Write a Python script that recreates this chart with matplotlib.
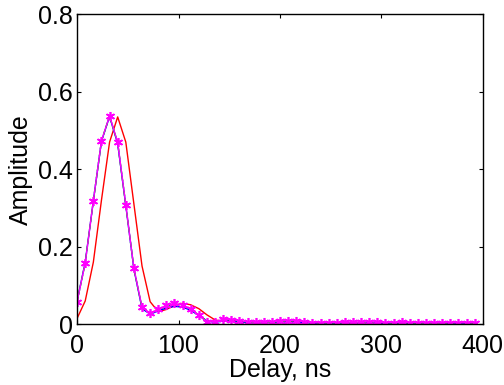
import numpy as np
from matplotlib import pyplot as plt

# delay axis, ns
delay = np.arange(0, 400, 8)

amp_red = [0.015, 0.060, 0.160, 0.320, 0.470, 0.535, 0.470, 0.310, 0.150, 0.058,
           0.032, 0.038, 0.048, 0.054, 0.050, 0.040, 0.024, 0.011, 0.007, 0.009,
           0.008, 0.006, 0.005, 0.005, 0.006, 0.007, 0.008, 0.007, 0.005, 0.004,
           0.003, 0.003, 0.003, 0.004, 0.004, 0.004, 0.004, 0.004, 0.003, 0.003,
           0.003, 0.003, 0.003, 0.003, 0.002, 0.002, 0.003, 0.002, 0.003, 0.003]
amp_blue = [0.060, 0.160, 0.318, 0.472, 0.536, 0.466, 0.306, 0.142, 0.040, 0.026,
            0.034, 0.042, 0.046, 0.044, 0.036, 0.022, 0.008, 0.005, 0.008, 0.008,
            0.006, 0.004, 0.003, 0.004, 0.004, 0.005, 0.006, 0.005, 0.004, 0.003,
            0.002, 0.002, 0.003, 0.003, 0.003, 0.003, 0.004, 0.003, 0.003, 0.003,
            0.003, 0.003, 0.003, 0.002, 0.002, 0.002, 0.003, 0.002, 0.003, 0.004]
amp_green = [0.058, 0.158, 0.318, 0.473, 0.537, 0.468, 0.307, 0.143, 0.043, 0.028,
             0.037, 0.047, 0.052, 0.048, 0.039, 0.023, 0.009, 0.006, 0.010, 0.010,
             0.008, 0.006, 0.004, 0.004, 0.005, 0.007, 0.008, 0.007, 0.005, 0.003,
             0.003, 0.003, 0.004, 0.004, 0.004, 0.004, 0.005, 0.004, 0.003, 0.003,
             0.004, 0.004, 0.003, 0.003, 0.002, 0.002, 0.003, 0.003, 0.004, 0.004]
amp_magenta = [0.058, 0.158, 0.318, 0.473, 0.538, 0.469, 0.308, 0.144, 0.044, 0.028,
               0.038, 0.049, 0.054, 0.049, 0.040, 0.023, 0.006, 0.006, 0.013, 0.012,
               0.009, 0.006, 0.005, 0.005, 0.006, 0.008, 0.009, 0.009, 0.006, 0.004,
               0.003, 0.004, 0.004, 0.005, 0.005, 0.005, 0.006, 0.005, 0.004, 0.004,
               0.005, 0.004, 0.004, 0.003, 0.003, 0.003, 0.004, 0.003, 0.004, 0.004]

plt.rcParams['font.family'] = ['Liberation Sans', 'DejaVu Sans']
plt.rcParams['font.size'] = 18

fig = plt.figure(figsize=(5.04, 3.85), dpi=100)
ax = fig.add_axes([0.153, 0.158, 0.805, 0.805])

ax.plot(delay, amp_red, color='red', lw=1.0)
ax.plot(delay, amp_blue, color='blue', lw=1.0)
ax.plot(delay, amp_green, color='#00cc00', lw=1.0, ls='--')
ax.plot(delay, amp_magenta, color='magenta', lw=1.0, marker=(6, 2, 0), markersize=6.5,
        markeredgewidth=1.2)

ax.set_xlim(0, 400)
ax.set_ylim(0, 0.8)
ax.set_xticks([0, 100, 200, 300, 400])
ax.set_yticks([0, 0.2, 0.4, 0.6, 0.8])
ax.set_yticklabels(['0', '0.2', '0.4', '0.6', '0.8'])
ax.tick_params(direction='in', length=3, width=0.8, top=True, right=True)
ax.tick_params(axis='x', pad=7)
ax.tick_params(axis='y', pad=3)
for s in ax.spines.values():
    s.set_linewidth(1.0)

ax.set_xlabel('Delay, ns', labelpad=0)
ax.set_ylabel('Amplitude', labelpad=4)

plt.savefig('out.png', dpi=100)
